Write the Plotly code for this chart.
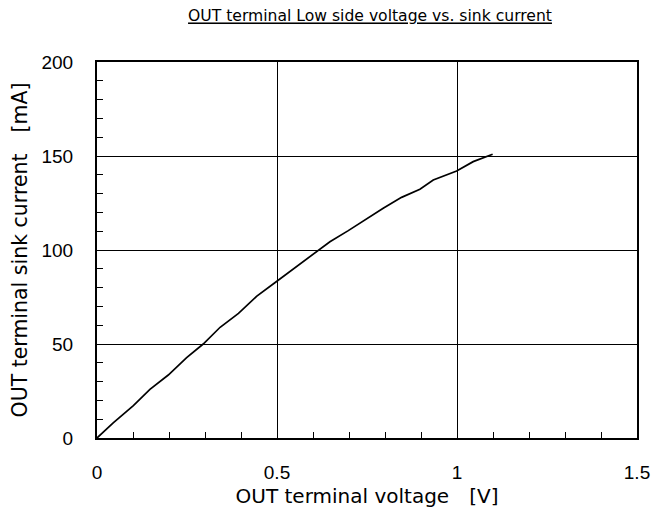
import plotly.graph_objects as go

voltage_v = [0.0, 0.045, 0.101, 0.147, 0.198, 0.249, 0.295, 0.342, 0.393, 0.444,
             0.494, 0.545, 0.596, 0.647, 0.698, 0.749, 0.795, 0.846, 0.897, 0.934,
             0.999, 1.045, 1.099]
current_ma = [0.0, 8.1, 17.2, 25.9, 33.5, 42.7, 50.0, 58.9, 66.3, 75.5,
              82.6, 90.0, 97.3, 104.4, 110.3, 116.8, 122.2, 128.0, 132.3, 137.2,
              142.0, 147.0, 150.9]

x_ticks = [0, 0.5, 1, 1.5]
x_tick_labels = ["0", "0.5", "1", "1.5"]
y_ticks = [0, 50, 100, 150, 200]
y_tick_labels = ["0", "50", "100", "150", "200"]

FONT = "DejaVu Sans, sans-serif"
TICK_FONT = "Liberation Sans, Arial, sans-serif"
W, H = 651, 512

fig = go.Figure()
fig.add_trace(go.Scatter(x=voltage_v, y=current_ma, mode="lines",
                         line=dict(color="black", width=1.7), showlegend=False))

fig.update_layout(
    width=W, height=H,
    margin=dict(l=97, r=14, t=62, b=74, autoexpand=False),
    paper_bgcolor="white", plot_bgcolor="white",
    font=dict(family=FONT, color="black", size=17),
    title=dict(text="<u>OUT terminal Low side voltage vs. sink current</u>",
               x=370 / W, xanchor="center", y=1 - 16 / H, yanchor="middle",
               font=dict(size=15.6, family=FONT)),
    xaxis=dict(range=[0, 1.5], tickvals=x_ticks, ticktext=x_tick_labels,
               showgrid=True, gridcolor="black", gridwidth=1,
               showline=True, linecolor="black", linewidth=2, mirror=True,
               ticks="inside", ticklen=0, ticklabelstandoff=16, automargin=False,
               minor=dict(dtick=0.1, ticks="inside", ticklen=6, tickcolor="black", showgrid=False),
               zeroline=False, tickfont=dict(size=19, family=TICK_FONT),
               title=dict(text="OUT terminal voltage\u3000[V]", standoff=7, font=dict(size=20))),
    yaxis=dict(range=[0, 200], tickvals=y_ticks, ticktext=y_tick_labels,
               showgrid=True, gridcolor="black", gridwidth=1,
               showline=True, linecolor="black", linewidth=2, mirror=True,
               ticks="inside", ticklen=0, ticklabelstandoff=18, automargin=False,
               minor=dict(dtick=10, ticks="inside", ticklen=6, tickcolor="black", showgrid=False),
               zeroline=False, tickfont=dict(size=19, family=TICK_FONT),
               title=dict(text="OUT terminal sink current\u3000[mA]", standoff=8, font=dict(size=20.5))),
)

fig.write_html("out.html", config={"displayModeBar": False},
               post_script="document.body.style.margin='0';document.body.style.overflow='hidden';")
